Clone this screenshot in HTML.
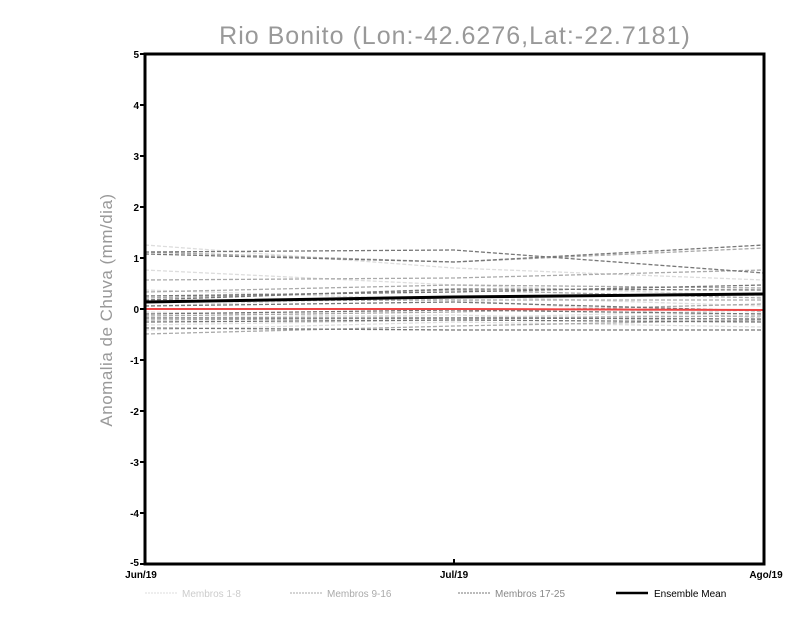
<!DOCTYPE html>
<html><head><style>body{margin:0;background:#fff}svg{display:block}</style></head><body>
<svg width="800" height="618" xmlns="http://www.w3.org/2000/svg" font-family="Liberation Sans, sans-serif">
<rect width="800" height="618" fill="#fff"/>
<text x="455" y="44" font-size="25" fill="#999" text-anchor="middle" letter-spacing="1">Rio Bonito (Lon:-42.6276,Lat:-22.7181)</text>
<text transform="translate(112,310) rotate(-90)" font-size="17" fill="#999" text-anchor="middle" letter-spacing="0.5">Anomalia de Chuva (mm/dia)</text>
<g stroke-dasharray="4,2" fill="none" stroke-width="1.3">
<g stroke="#ddd">
<polyline points="145,245 454,268 764,280"/>
<polyline points="145,270 454,285 764,296"/>
<polyline points="145,290 454,300 764,318"/>
<polyline points="145,318 454,315 764,322"/>
<polyline points="145,325 454,320 764,313"/>
<polyline points="145,330 454,322 764,327"/>
<polyline points="145,306 454,296 764,306"/>
<polyline points="145,312 454,318 764,310"/>
</g>
<g stroke="#aaa">
<polyline points="145,252 454,262 764,248"/>
<polyline points="145,280 454,278 764,270"/>
<polyline points="145,292 454,285 764,288"/>
<polyline points="145,298 454,290 764,298"/>
<polyline points="145,316 454,312 764,304"/>
<polyline points="145,320 454,318 764,316"/>
<polyline points="145,334 454,326 764,320"/>
<polyline points="145,301 454,300 764,300"/>
</g>
<g stroke="#777">
<polyline points="145,252 454,250 764,273"/>
<polyline points="145,254 454,262 764,245"/>
<polyline points="145,300 454,289 764,290"/>
<polyline points="145,296 454,292 764,285"/>
<polyline points="145,306 454,302 764,311"/>
<polyline points="145,314 454,310 764,314"/>
<polyline points="145,318 454,318 764,319"/>
<polyline points="145,322 454,320 764,322"/>
<polyline points="145,328 454,330 764,330"/>
</g>
</g>
<polyline points="145,309 454,309 764,310" stroke="#e44" stroke-width="2" fill="none"/>
<polyline points="145,302 454,297 764,294" stroke="#000" stroke-width="3" fill="none"/>
<rect x="145" y="54" width="619" height="510" fill="none" stroke="#000" stroke-width="3"/>
<g stroke="#000" stroke-width="2">
<line x1="140" y1="54" x2="145" y2="54"/><line x1="140" y1="105" x2="145" y2="105"/><line x1="140" y1="156" x2="145" y2="156"/><line x1="140" y1="207" x2="145" y2="207"/><line x1="140" y1="258" x2="145" y2="258"/><line x1="140" y1="309" x2="145" y2="309"/><line x1="140" y1="360" x2="145" y2="360"/><line x1="140" y1="411" x2="145" y2="411"/><line x1="140" y1="462" x2="145" y2="462"/><line x1="140" y1="513" x2="145" y2="513"/><line x1="140" y1="564" x2="145" y2="564"/>
<line x1="454" y1="559" x2="454" y2="564"/>
</g>
<g font-size="10" font-weight="bold" text-anchor="end" fill="#000">
<text x="139" y="58">5</text><text x="139" y="109">4</text><text x="139" y="160">3</text><text x="139" y="211">2</text><text x="139" y="262">1</text><text x="139" y="313">0</text><text x="139" y="364">-1</text><text x="139" y="415">-2</text><text x="139" y="466">-3</text><text x="139" y="517">-4</text><text x="139" y="566">-5</text>
</g>
<g font-size="10" font-weight="bold" fill="#000" text-anchor="middle">
<text x="141" y="578">Jun/19</text><text x="454" y="578">Jul/19</text><text x="766" y="578">Ago/19</text>
</g>
<g font-size="10">
<line x1="145" y1="593" x2="177" y2="593" stroke="#ddd" stroke-dasharray="2,1"/><text x="182" y="597" fill="#ccc">Membros 1-8</text>
<line x1="290" y1="593" x2="322" y2="593" stroke="#aaa" stroke-dasharray="2,1"/><text x="327" y="597" fill="#aaa">Membros 9-16</text>
<line x1="458" y1="593" x2="490" y2="593" stroke="#777" stroke-dasharray="2,1"/><text x="495" y="597" fill="#888">Membros 17-25</text>
<line x1="616" y1="593" x2="648" y2="593" stroke="#000" stroke-width="2.5"/><text x="654" y="597" fill="#000">Ensemble Mean</text>
</g>
</svg>
</body></html>
